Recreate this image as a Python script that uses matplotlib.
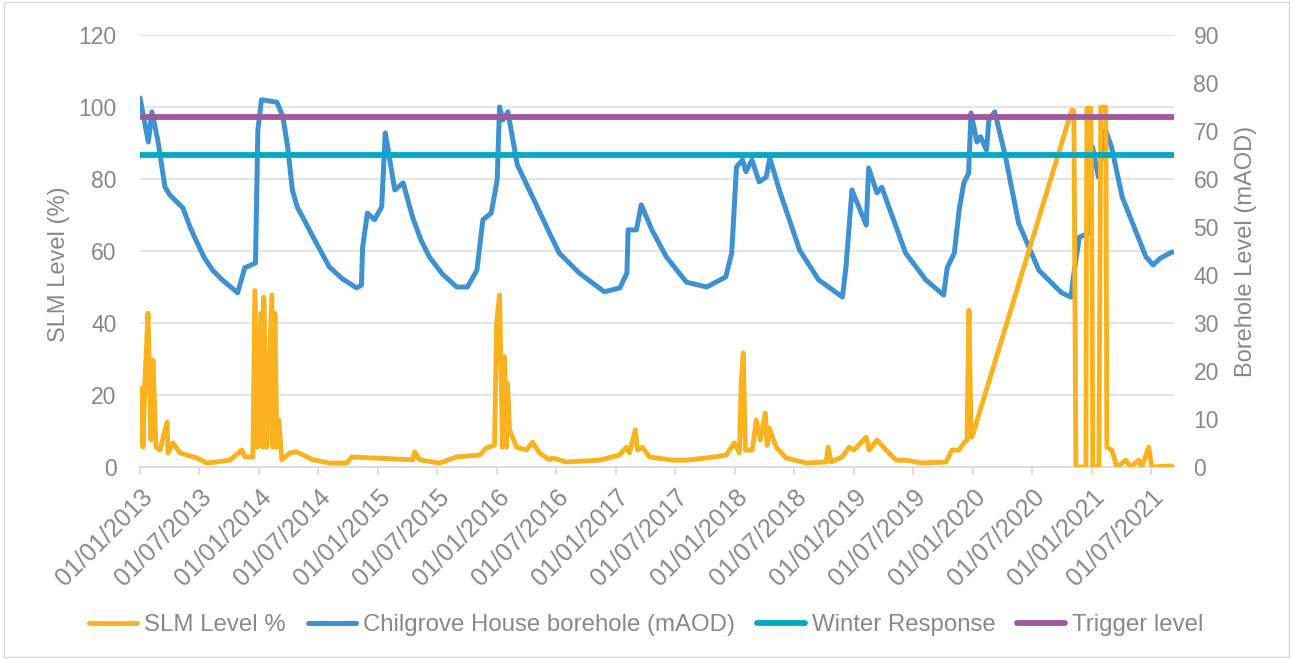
import numpy as np
import pandas as pd
import matplotlib
matplotlib.use("Agg")
import matplotlib.pyplot as plt
import matplotlib.dates as mdates
from matplotlib.patches import Rectangle

plt.rcParams['font.family'] = ['Liberation Sans', 'DejaVu Sans']

# borehole level, decimal year vs mAOD (right axis)
bh_year = [2013.00, 2013.07, 2013.10, 2013.15, 2013.21, 2013.25, 2013.31, 2013.36, 2013.42, 2013.48,
           2013.54, 2013.61, 2013.69, 2013.82, 2013.88, 2013.97, 2013.99, 2014.02, 2014.15, 2014.20,
           2014.24, 2014.28, 2014.32, 2014.37, 2014.48, 2014.59, 2014.70, 2014.82, 2014.86, 2014.87,
           2014.91, 2014.97, 2015.03, 2015.06, 2015.08, 2015.14, 2015.21, 2015.29, 2015.36, 2015.43,
           2015.54, 2015.66, 2015.75, 2015.83, 2015.88, 2015.95, 2016.00, 2016.02, 2016.05, 2016.09,
           2016.17, 2016.31, 2016.44, 2016.52, 2016.69, 2016.90, 2017.03, 2017.09, 2017.10, 2017.17,
           2017.21, 2017.30, 2017.42, 2017.59, 2017.76, 2017.92, 2017.97, 2018.01, 2018.06, 2018.09,
           2018.14, 2018.20, 2018.26, 2018.29, 2018.37, 2018.54, 2018.70, 2018.90, 2018.93, 2018.98,
           2019.10, 2019.12, 2019.19, 2019.23, 2019.43, 2019.60, 2019.75, 2019.78, 2019.84, 2019.88,
           2019.92, 2019.96, 2019.98, 2020.03, 2020.06, 2020.11, 2020.13, 2020.18, 2020.27, 2020.38,
           2020.55, 2020.74, 2020.82, 2020.84, 2020.89, 2020.97, 2021.00, 2021.05, 2021.11, 2021.16,
           2021.25, 2021.45, 2021.51, 2021.57, 2021.67]
bh_maod = [76.9, 67.7, 74.0, 68.0, 58.3, 56.7, 55.2, 54.0, 50.0, 46.7,
           43.6, 41.0, 39.0, 36.3, 41.5, 42.5, 70.2, 76.5, 76.0, 73.0,
           66.7, 57.7, 54.2, 51.9, 46.7, 41.7, 39.2, 37.3, 37.9, 45.8,
           52.9, 51.5, 54.2, 69.6, 66.7, 57.7, 59.2, 52.0, 47.3, 43.8,
           40.2, 37.5, 37.5, 41.0, 51.5, 52.9, 59.8, 75.0, 72.3, 74.0,
           62.9, 55.6, 48.7, 44.6, 40.4, 36.5, 37.3, 40.4, 49.4, 49.4,
           54.6, 49.4, 43.8, 38.5, 37.5, 39.6, 44.6, 62.5, 64.0, 61.5,
           64.0, 59.4, 60.4, 64.4, 57.7, 45.2, 39.0, 35.4, 41.7, 57.7,
           50.4, 62.3, 57.1, 58.3, 44.6, 39.0, 35.8, 41.5, 44.6, 53.5,
           59.2, 61.2, 73.75, 67.7, 68.8, 66.0, 72.3, 74.0, 64.6, 50.8,
           41.0, 36.3, 35.4, 39.6, 47.9, 48.7, 66.7, 60.4, 70.2, 66.7,
           56.25, 43.75, 42.1, 43.5, 44.8]

# SLM level, years since 2013-01-01 vs percent (left axis)
slm_off = [0.000, 0.017, 0.025, 0.042, 0.067, 0.092, 0.109, 0.134, 0.168, 0.227,
           0.235, 0.277, 0.336, 0.478, 0.562, 0.755, 0.856, 0.881, 0.948, 0.965,
           0.990, 1.015, 1.032, 1.040, 1.065, 1.107, 1.116, 1.133, 1.149, 1.166,
           1.191, 1.258, 1.317, 1.451, 1.594, 1.737, 1.779, 2.290, 2.307, 2.349,
           2.517, 2.659, 2.852, 2.911, 2.978, 2.995, 3.020, 3.045, 3.062, 3.079,
           3.087, 3.104, 3.163, 3.247, 3.297, 3.356, 3.440, 3.465, 3.582, 3.859,
           4.027, 4.086, 4.111, 4.161, 4.178, 4.220, 4.279, 4.471, 4.589, 4.757,
           4.924, 4.992, 5.034, 5.050, 5.067, 5.084, 5.143, 5.176, 5.210, 5.252,
           5.268, 5.285, 5.344, 5.428, 5.596, 5.763, 5.780, 5.805, 5.898, 5.956,
           5.998, 6.099, 6.124, 6.191, 6.267, 6.351, 6.435, 6.569, 6.770, 6.820,
           6.879, 6.921, 6.946, 6.963, 6.980, 6.988, 7.827, 7.844, 7.861, 7.945,
           7.953, 7.987, 7.995, 8.003, 8.054, 8.070, 8.112, 8.121, 8.163, 8.205,
           8.280, 8.322, 8.389, 8.414, 8.473, 8.498, 8.666]
slm_pct = [7.5, 22.0, 5.5, 24.0, 42.7, 7.5, 29.7, 5.5, 4.7, 12.5,
           3.9, 6.7, 3.9, 2.5, 1.1, 1.9, 4.7, 2.8, 2.8, 49.0,
           5.5, 42.7, 5.5, 47.2, 5.5, 47.8, 5.5, 42.7, 5.5, 13.0,
           2.0, 3.9, 4.2, 2.0, 1.1, 1.1, 2.8, 2.0, 4.2, 2.0,
           1.1, 2.8, 3.3, 5.3, 6.1, 40.0, 47.8, 5.5, 30.6, 5.5,
           23.3, 10.3, 5.5, 4.7, 6.9, 3.9, 2.0, 2.5, 1.4, 1.9,
           3.3, 5.5, 3.9, 10.3, 4.7, 5.5, 2.8, 1.9, 1.9, 2.5,
           3.3, 6.7, 3.9, 23.3, 31.7, 4.7, 4.7, 13.0, 7.5, 15.0,
           6.0, 10.8, 5.5, 2.5, 1.1, 1.4, 5.5, 1.4, 2.8, 5.5,
           4.7, 8.3, 4.7, 7.5, 4.7, 1.9, 1.9, 1.1, 1.4, 4.7,
           4.7, 6.7, 7.5, 43.6, 8.3, 8.3, 99.2, 99.0, 0.0, 0.0,
           99.7, 99.7, 63.0, 0.0, 0.0, 100.0, 100.0, 5.5, 4.7, 0.0,
           1.9, 0.0, 1.9, 0.0, 5.5, 0.0, 0.3]

winter_response = 65.0   # mAOD
trigger_level = 73.0     # mAOD
x_start, x_end = 2013.0, 2021.685

start = pd.Timestamp('2013-01-01')


def to_dates(yrs):
    return start + pd.to_timedelta((np.asarray(yrs) - 2013.0) * 365.25, unit='D')


bh_dates = to_dates(bh_year)
slm_dates = to_dates(2013.0 + np.asarray(slm_off))
line_dates = to_dates([x_start, x_end - 0.01])

grey = '#898989'
c_slm = '#FAB31E'
c_bh = '#3E92D2'
c_win = '#02A9C7'
c_trig = '#A1599D'

fig = plt.figure(figsize=(12.93, 6.59), dpi=100)
fig.patches.append(Rectangle((0.003, 0.003), 0.994, 0.994, transform=fig.transFigure,
                             fill=False, edgecolor='#D9D9D9', linewidth=1.0))

pos = [140 / 1293, 1 - 467 / 659, 1034 / 1293, 432 / 659]
ax = fig.add_axes(pos)
axr = ax.twinx()
axo = fig.add_axes(pos, sharex=ax, sharey=ax, frameon=False)
axh = fig.add_axes(pos, sharex=ax, sharey=axr, frameon=False)
ax.set_zorder(1)
axr.set_zorder(2)
axo.set_zorder(3)
axh.set_zorder(4)
for a in (axr, axo, axh):
    a.patch.set_visible(False)

# left axis + grid
ax.set_ylim(0, 120)
ax.set_yticks(range(0, 121, 20))
ax.grid(axis='y', color='#E0E0E0', linewidth=1.2)
ax.set_axisbelow(True)
ax.set_xlim(to_dates([x_start])[0], to_dates([x_end])[0])
for s in ('top', 'left', 'right'):
    ax.spines[s].set_visible(False)
ax.spines['bottom'].set_color('#D9D9D9')
ax.spines['bottom'].set_linewidth(1.2)
ax.xaxis.set_major_locator(mdates.MonthLocator(bymonth=[1, 7]))
ax.xaxis.set_major_formatter(mdates.DateFormatter('%d/%m/%Y'))
ax.tick_params(axis='x', colors=grey, labelsize=18, length=6, width=1.2, color='#D9D9D9',
               labelrotation=45, pad=7)
for lab in ax.get_xticklabels():
    lab.set_ha('right')
    lab.set_rotation_mode('anchor')
ax.tick_params(axis='y', colors=grey, labelsize=16.5, length=0, pad=17)
ax.set_ylabel('SLM Level (%)', color=grey, fontsize=17)
ax.yaxis.set_label_coords(-0.068, 0.47)

# right axis: borehole
axr.set_ylim(0, 90)
axr.set_yticks(range(0, 91, 10))
for s in axr.spines.values():
    s.set_visible(False)
axr.tick_params(axis='y', colors=grey, labelsize=16.5, length=0, pad=14)
axr.set_ylabel('Borehole Level (mAOD)', color=grey, fontsize=17)
axr.yaxis.set_label_coords(1.059, 0.5)
l_bh, = axr.plot(bh_dates, bh_maod, color=c_bh, lw=3.6, solid_joinstyle='round',
                 solid_capstyle='round', label='Chilgrove House borehole (mAOD)')

# SLM level on top of borehole
axo.axis('off')
l_slm, = axo.plot(slm_dates, slm_pct, color=c_slm, lw=3.5, solid_joinstyle='round',
                  solid_capstyle='round', label='SLM Level %')

# threshold lines
axh.axis('off')
l_win, = axh.plot(line_dates, [winter_response] * 2, color=c_win, lw=4.2,
                  solid_capstyle='round', label='Winter Response')
l_trig, = axh.plot(line_dates, [trigger_level] * 2, color=c_trig, lw=4.2,
                   solid_capstyle='round', label='Trigger level')

fig.legend(handles=[l_slm, l_bh, l_win, l_trig], loc='center', bbox_to_anchor=(0.5, 1 - 625 / 659),
           ncol=4, frameon=False, fontsize=17.3, labelcolor=grey, handlelength=2.0,
           handletextpad=0.3, columnspacing=0.9)

fig.savefig('out.png', dpi=100)
